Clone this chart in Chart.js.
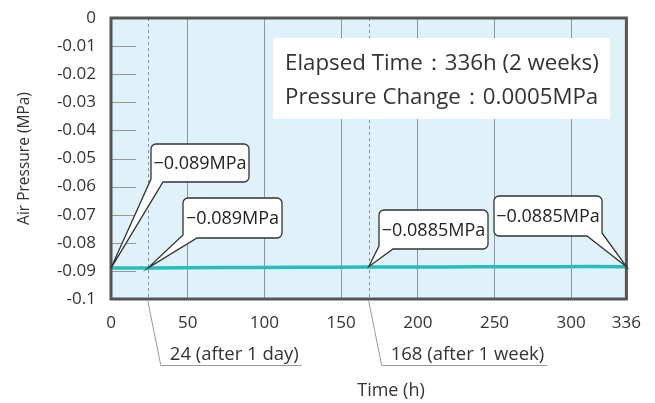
<!DOCTYPE html>
<html>
<head>
<meta charset="utf-8">
<script src="https://cdn.jsdelivr.net/npm/chart.js@4.4.1/dist/chart.umd.min.js"></script>
<style>
  html, body { margin: 0; padding: 0; background: #fff; }
  #wrap { width: 655px; height: 403px; }
</style>
</head>
<body>
<div id="wrap"><canvas id="myChart" width="655" height="403"></canvas></div>
<script>
// data
var hours    = [0, 24, 48, 72, 96, 120, 144, 168, 192, 216, 240, 264, 288, 312, 336];
var pressure = [-0.089, -0.089, -0.0889, -0.0888, -0.0888, -0.0887, -0.0887, -0.0886,
                -0.0886, -0.0886, -0.0885, -0.0885, -0.0885, -0.0884, -0.0885];
var xTickValues = [0, 50, 100, 150, 200, 250, 300, 336];
var yMin = -0.1, yMax = 0, yStep = 0.01;

var markHours  = [24, 168];
var markLabels = ['24 (after 1 day)', '168 (after 1 week)'];

var calloutHours  = [0, 24, 168, 336];
var calloutValues = [-0.089, -0.089, -0.0885, -0.0885];
var calloutTexts  = ['\u22120.089MPa', '\u22120.089MPa', '\u22120.0885MPa', '\u22120.0885MPa'];

var summaryLines = ['Elapsed Time\uFF1A336h (2 weeks)', 'Pressure Change\uFF1A0.0005MPa'];

var FONT = '"Open Sans", "Noto Sans", sans-serif';

// box layout for the callouts (pixels)
var calloutBoxes = [
  { x: 151, y: 144, w: 98,  h: 38, b1: 151, b2: 163 },
  { x: 183, y: 198, w: 99,  h: 40, b1: 183, b2: 197 },
  { x: 379, y: 210, w: 109, h: 39, b1: 380, b2: 393 },
  { x: 494, y: 196, w: 108, h: 40, b1: 587, b2: 602 }
];

function calloutPath(c, b, px, py) {
  var r = 5, x = b.x, y = b.y, w = b.w, h = b.h;
  c.beginPath();
  c.moveTo(x + r, y);
  c.lineTo(x + w - r, y);
  c.arcTo(x + w, y, x + w, y + r, r);
  if (b.b2 >= x + w - r) {
    c.lineTo(x + w, y + h - 3);
    c.lineTo(px, py);
  } else {
    c.lineTo(x + w, y + h - r);
    c.arcTo(x + w, y + h, x + w - r, y + h, r);
    c.lineTo(b.b2, y + h);
    c.lineTo(px, py);
  }
  if (b.b1 <= x + r) {
    c.lineTo(x, y + h - 3);
  } else {
    c.lineTo(b.b1, y + h);
    c.lineTo(x + r, y + h);
    c.arcTo(x, y + h, x, y + h - r, r);
  }
  c.lineTo(x, y + r);
  c.arcTo(x, y, x + r, y, r);
  c.closePath();
}

var decor = {
  id: 'decor',
  beforeDraw: function (chart) {
    var c = chart.ctx, a = chart.chartArea;
    c.save();
    c.fillStyle = '#dff2fa';
    c.fillRect(a.left, a.top, a.right - a.left, a.bottom - a.top);
    c.restore();
  },
  beforeDatasetsDraw: function (chart) {
    var c = chart.ctx, a = chart.chartArea;
    var xs = chart.scales.x, ys = chart.scales.y;
    c.save();
    // short y ticks inside the plot
    c.strokeStyle = '#999';
    c.lineWidth = 1;
    for (var v = yMin + yStep; v < yMax - 1e-9; v += yStep) {
      var py = Math.round(ys.getPixelForValue(v)) + 0.5;
      c.beginPath();
      c.moveTo(a.left, py);
      c.lineTo(a.left + 25, py);
      c.stroke();
    }
    // dashed marks
    c.setLineDash([3, 3]);
    c.strokeStyle = '#8a8f94';
    markHours.forEach(function (h) {
      var px = Math.round(xs.getPixelForValue(h)) + 0.5;
      c.beginPath();
      c.moveTo(px, a.top);
      c.lineTo(px, a.bottom);
      c.stroke();
    });
    c.restore();
  },
  afterDraw: function (chart) {
    var c = chart.ctx, a = chart.chartArea;
    var xs = chart.scales.x, ys = chart.scales.y;
    c.save();
    // frame
    c.strokeStyle = '#555';
    c.lineWidth = 3;
    c.strokeRect(a.left, a.top, a.right - a.left, a.bottom - a.top);

    // summary box
    c.fillStyle = '#fff';
    c.fillRect(273, 38, 337, 81);
    c.fillStyle = '#333';
    c.font = '22.3px ' + FONT;
    c.textBaseline = 'middle';
    c.textAlign = 'left';
    c.fillText(summaryLines[0], 285, 64);
    c.fillText(summaryLines[1], 285, 98);

    // callouts
    c.font = '18px ' + FONT;
    c.textAlign = 'center';
    calloutHours.forEach(function (h, i) {
      var b = calloutBoxes[i];
      var px = xs.getPixelForValue(h), py = ys.getPixelForValue(calloutValues[i]);
      calloutPath(c, b, px, py);
      c.fillStyle = '#fff';
      c.fill();
      c.strokeStyle = '#333';
      c.lineWidth = 1.3;
      c.stroke();
      c.fillStyle = '#222';
      c.fillText(calloutTexts[i], b.x + b.w / 2, b.y + b.h / 2 + 1);
    });

    // labels under the axis
    c.font = '18.5px ' + FONT;
    c.textAlign = 'left';
    c.strokeStyle = '#999';
    c.lineWidth = 1;
    markHours.forEach(function (h, i) {
      var px = xs.getPixelForValue(h);
      var ex = px + 13, ey = 365.5;
      var tw = c.measureText(markLabels[i]).width;
      c.beginPath();
      c.moveTo(px, a.bottom + 2);
      c.lineTo(ex, ey);
      c.lineTo(ex + 9 + tw + 3, ey);
      c.stroke();
      c.fillStyle = '#333';
      c.fillText(markLabels[i], ex + 9, 355);
    });

    // x axis title
    c.font = '18px ' + FONT;
    c.textAlign = 'center';
    c.fillStyle = '#333';
    c.fillText('Time (h)', 391, 391);
    c.restore();
  }
};

var ctx = document.getElementById('myChart').getContext('2d');

var myChart = new Chart(ctx, {
  type: 'line',
  data: {
    datasets: [{
      data: hours.map(function (h, i) { return { x: h, y: pressure[i] }; }),
      borderColor: '#27bdbc',
      borderWidth: 3.5,
      pointRadius: 0,
      tension: 0,
      fill: false
    }]
  },
  options: {
    responsive: false,
    animation: false,
    events: [],
    layout: { padding: { top: 18, right: 26, left: 0, bottom: 0 } },
    plugins: { legend: { display: false }, tooltip: { enabled: false } },
    scales: {
      x: {
        type: 'linear',
        min: 0,
        max: 336,
        afterBuildTicks: function (s) {
          s.ticks = xTickValues.map(function (v) { return { value: v }; });
        },
        afterFit: function (s) { s.height = 104; },
        border: { display: false },
        grid: {
          drawTicks: false,
          lineWidth: 1,
          color: function (ctx) {
            var v = ctx.tick ? ctx.tick.value : 0;
            return (v === 0 || v === 336) ? 'rgba(0,0,0,0)' : '#8e969c';
          }
        },
        ticks: {
          padding: 14,
          maxRotation: 0,
          autoSkip: false,
          color: '#333',
          font: { family: FONT, size: 17 },
          callback: function (v) { return String(v); }
        }
      },
      y: {
        min: yMin,
        max: yMax,
        afterFit: function (s) { s.width = 111; },
        border: { display: false },
        grid: { display: false },
        ticks: {
          stepSize: yStep,
          padding: 7,
          color: '#333',
          font: { family: FONT, size: 17 },
          callback: function (v) {
            var r = Math.round(v * 100) / 100;
            return r === 0 ? '0' : String(r);
          }
        },
        title: {
          display: true,
          text: 'Air Pressure (MPa)',
          color: '#333',
          font: { family: FONT, size: 15.5 },
          padding: { top: 15, bottom: 0 }
        }
      }
    }
  },
  plugins: [decor]
});
</script>
</body>
</html>
